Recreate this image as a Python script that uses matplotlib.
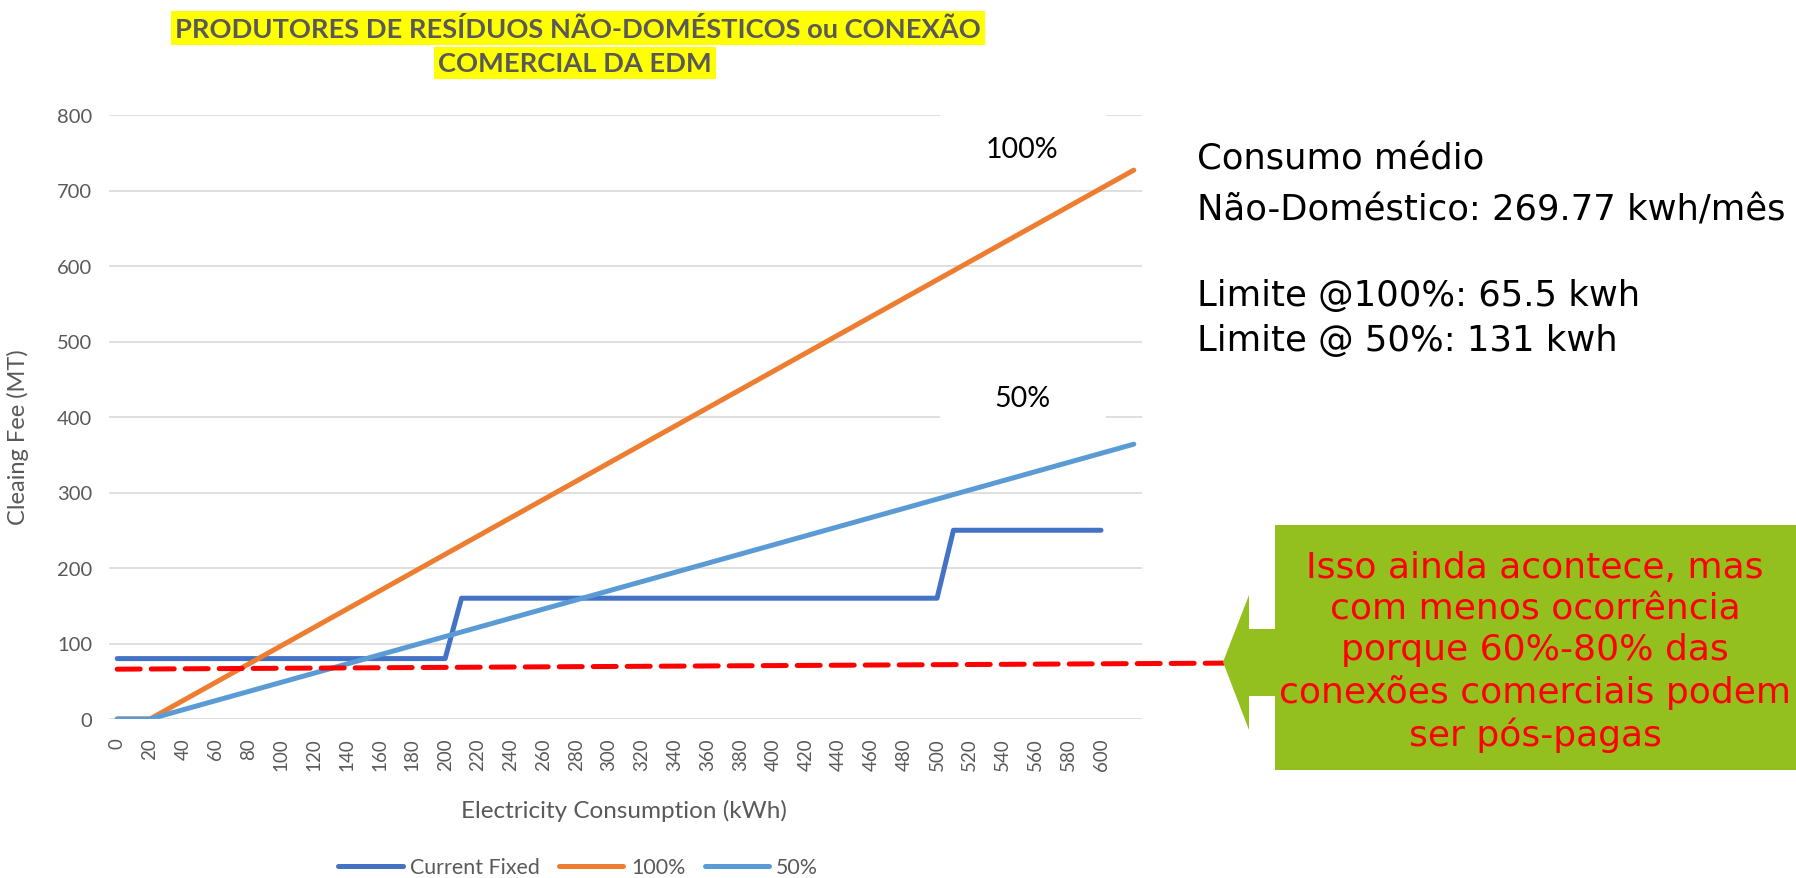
#!/usr/bin/env python3
"""Cleaning fee vs electricity consumption for non-domestic EDM connections."""

import matplotlib

matplotlib.use("Agg")
import matplotlib.pyplot as plt
from matplotlib.patches import Polygon, Rectangle

W, H = 1796, 879

# series
fixed_x = [0, 200, 210, 500, 510, 600]
fixed_y = [80, 80, 160, 160, 250, 250]
full_x = [0, 20, 620]
full_y = [0, 0, 727]
half_x = [0, 20, 620]
half_y = [0, 0, 364]
limit_x = [0, 675]
limit_y = [66, 74]

x_ticks = list(range(0, 601, 20))
y_ticks = list(range(0, 801, 100))

title_lines = ["PRODUTORES DE RESÍDUOS NÃO-DOMÉSTICOS ou CONEXÃO", "COMERCIAL DA EDM"]
note_lines = ["Consumo médio", "Não-Doméstico: 269.77 kwh/mês", "Limite @100%: 65.5 kwh", "Limite @ 50%: 131 kwh"]
note_y = [160, 210, 296, 341]
callout = "Isso ainda acontece, mas\ncom menos ocorrência\nporque 60%-80% das\nconexões comerciais podem\nser pós-pagas"

GRAY = "#595959"
GRID = "#D9D9D9"


def px(x, y):
    return (x / W, 1 - y / H)


fig = plt.figure(figsize=(W / 100, H / 100), dpi=100)
left, right, top, bottom = 109, 1142, 116, 720
ax = fig.add_axes([left / W, 1 - bottom / H, (right - left) / W, (bottom - top) / H])

ax.set_xlim(-5, 625)
ax.set_ylim(0, 800)
for v in y_ticks:
    ax.axhline(v, color=GRID, lw=1.2, zorder=0.5)
for s in ax.spines.values():
    s.set_visible(False)

ax.set_xticks(x_ticks)
ax.set_xticklabels([str(v) for v in x_ticks], rotation=90, family="Lato", fontsize=13.5, color=GRAY)
ax.set_yticks(y_ticks)
ax.set_yticklabels([str(v) for v in y_ticks], family="Lato", fontsize=14.5, color=GRAY)
ax.tick_params(axis="both", length=0)
ax.tick_params(axis="y", pad=12)
ax.tick_params(axis="x", pad=13)

ax.set_xlabel("Electricity Consumption (kWh)", family="Lato", fontsize=17.5, color=GRAY)
ax.xaxis.set_label_coords(0.4985, -0.132)
ax.set_ylabel("Cleaing Fee (MT)", family="Lato", fontsize=17, color=GRAY)
ax.yaxis.set_label_coords(-0.0774, 0.469)

lw = 3.6
ax.plot(fixed_x, fixed_y, color="#4472C4", lw=lw, solid_capstyle="round", solid_joinstyle="round", label="Current Fixed", zorder=2)
ax.plot(full_x, full_y, color="#ED7D31", lw=lw, solid_capstyle="round", solid_joinstyle="round", label="100%", zorder=2.1)
ax.plot(half_x, half_y, color="#5B9BD5", lw=lw, solid_capstyle="round", solid_joinstyle="round", label="50%", zorder=2.2)
ax.plot(limit_x, limit_y, color="#FF0000", lw=lw, ls=(0, (4.6, 2.2)), dash_capstyle="round", clip_on=False, zorder=3)

# white label boxes over the gridlines
ax.add_patch(Rectangle((502, 712), 101, 95, facecolor="white", edgecolor="none", zorder=1, clip_on=False))
ax.add_patch(Rectangle((502, 393), 101, 85, facecolor="white", edgecolor="none", zorder=1, clip_on=False))
ax.text(552, 755, "100%", ha="center", va="center", family="Lato", fontsize=20.5, color="black", zorder=4)
ax.text(552, 425, "50%", ha="center", va="center", family="Lato", fontsize=20.5, color="black", zorder=4)

leg = fig.legend(loc="center", bbox_to_anchor=(0.322, 1 - 868 / H), ncol=3, frameon=False,
                 prop={"family": "Lato", "size": 15.4}, handlelength=3.0, handletextpad=0.35, columnspacing=0.9)
for t in leg.get_texts():
    t.set_color(GRAY)

# title with yellow highlight per line
fig.text(*px(578, 29), title_lines[0], ha="center", va="center", family="Lato", weight="bold", fontsize=19.6,
         color=GRAY, bbox=dict(boxstyle="square,pad=0.15", facecolor="#FFFF00", edgecolor="none"))
fig.text(*px(575, 64), title_lines[1], ha="center", va="center", family="Lato", weight="bold", fontsize=19.6,
         color=GRAY, bbox=dict(boxstyle="square,pad=0.15", facecolor="#FFFF00", edgecolor="none"))

for line, y in zip(note_lines, note_y):
    fig.text(*px(1197, y), line, ha="left", va="center", family="DejaVu Sans", fontsize=25.5, color="black")

# green arrow callout
shape = [(1796, 526), (1275, 526), (1275, 630), (1249, 630), (1249, 596), (1223, 663),
         (1249, 731), (1249, 697), (1275, 697), (1275, 771), (1796, 771)]
fig.patches.append(Polygon([px(x, y) for x, y in shape], closed=True, transform=fig.transFigure,
                           facecolor="#93C01F", edgecolor="none", zorder=1))
fig.text(*px(1535, 652), callout, ha="center", va="center", multialignment="center", family="DejaVu Sans",
         fontsize=26, color="#FF0000", linespacing=1.27, zorder=2)

fig.savefig("out.png", dpi=100)
